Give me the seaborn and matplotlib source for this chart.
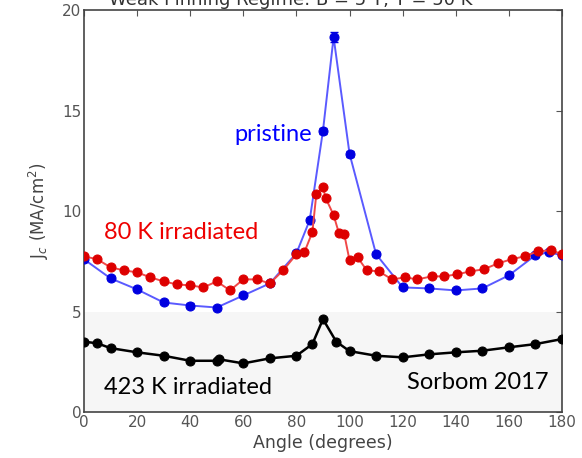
"""
Jc vs field angle for pristine and irradiated REBCO tape (Sorbom 2017)
"""
import matplotlib
matplotlib.use('Agg')
import matplotlib.pyplot as plt
import seaborn as sns

# ---- data ----
pristine_angle = [0, 10, 20, 30, 40, 50, 60, 70, 80, 85, 90, 94, 100,
                  110, 120, 130, 140, 150, 160, 170, 175, 180]
pristine_jc = [7.6, 6.65, 6.1, 5.45, 5.3, 5.2, 5.8, 6.4, 7.9, 9.55, 14.0, 18.65, 12.85,
               7.85, 6.2, 6.15, 6.05, 6.15, 6.8, 7.8, 7.95, 7.8]
pristine_err = [0.1, 0.1, 0.1, 0.1, 0.1, 0.1, 0.1, 0.1, 0.1, 0.1, 0.15, 0.25, 0.15,
                0.1, 0.1, 0.1, 0.1, 0.1, 0.1, 0.1, 0.1, 0.1]

irr80_angle = [0, 5, 10, 15, 20, 25, 30, 35, 40, 45, 50, 55, 60, 65, 70, 75, 80,
               83, 86, 87.5, 90, 91, 94, 96, 98, 100, 103, 106.5, 111, 116, 121,
               125.5, 131, 135.5, 140.5, 145.5, 150.5, 156, 161, 166, 171, 176, 180]
irr80_jc = [7.75, 7.6, 7.2, 7.05, 6.95, 6.7, 6.5, 6.35, 6.3, 6.2, 6.5, 6.05, 6.6, 6.6,
            6.4, 7.05, 7.85, 7.95, 8.95, 10.85, 11.2, 10.65, 9.8, 8.9, 8.85, 7.55, 7.7,
            7.05, 7.0, 6.6, 6.7, 6.6, 6.75, 6.75, 6.85, 7.0, 7.1, 7.4, 7.6, 7.75, 8.0,
            8.05, 7.85]

irr423_angle = [0, 5, 10, 20, 30, 40, 50, 51, 60, 70, 80, 86, 90, 95, 100,
                110, 120, 130, 140, 150, 160, 170, 180]
irr423_jc = [3.5, 3.42, 3.18, 2.97, 2.8, 2.55, 2.55, 2.62, 2.42, 2.67, 2.8, 3.38, 4.62,
             3.5, 3.03, 2.8, 2.72, 2.87, 2.97, 3.05, 3.22, 3.38, 3.63]

x_ticks = [0, 20, 40, 60, 80, 100, 120, 140, 160, 180]
y_ticks = [0, 5, 10, 15, 20]

sns.set_style('white')
plt.rcParams['font.family'] = ['DejaVu Sans']

fig = plt.figure(figsize=(5.82, 4.58), dpi=100)
ax = fig.add_axes([0.1443, 0.1004, 0.8213, 0.8776])

# light panel behind the 423 K data
ax.axhspan(0, 5, color='#f6f6f6', zorder=0, lw=0)

sns.lineplot(x=pristine_angle, y=pristine_jc, ax=ax, color='#5a5aff', lw=1.4,
             marker='o', markersize=6.5, markerfacecolor='#0000e0',
             markeredgecolor='#0000e0', zorder=3)
ax.errorbar(pristine_angle, pristine_jc, yerr=pristine_err, fmt='none',
            ecolor='#0000e0', elinewidth=1, capsize=3, zorder=3)

sns.lineplot(x=irr80_angle, y=irr80_jc, ax=ax, color='#f04848', lw=1.4,
             marker='o', markersize=6.5, markerfacecolor='#dd0000',
             markeredgecolor='#dd0000', zorder=4)

sns.lineplot(x=irr423_angle, y=irr423_jc, ax=ax, color='black', lw=1.8,
             marker='o', markersize=6.5, markerfacecolor='black',
             markeredgecolor='black', zorder=4)

ax.set_xlim(0, 180)
ax.set_ylim(0, 20)
ax.set_xticks(x_ticks)
ax.set_yticks(y_ticks)
ax.tick_params(direction='in', top=True, right=True, length=4, width=0.8,
               labelsize=11, labelcolor='#555555', color='#555555', pad=2)
for s in ax.spines.values():
    s.set_color('#444444')
    s.set_linewidth(1.2)

ax.set_xlabel('Angle (degrees)', fontsize=12.5, color='#444444', labelpad=3)
ax.set_ylabel('J$_c$ (MA/cm$^2$)', fontsize=12, color='#444444', labelpad=8)

# annotations
ax.text(86, 13.8, 'pristine', color='#0000ff', fontsize=17, family='Lato',
        ha='right', va='center')
ax.text(7.5, 8.95, '80 K irradiated', color='#ee0000', fontsize=17, family='Lato',
        ha='left', va='center')
ax.text(7.5, 1.2, '423 K irradiated', color='black', fontsize=17, family='Lato',
        ha='left', va='center')
ax.text(175, 1.45, 'Sorbom 2017', color='black', fontsize=17, family='Lato',
        ha='right', va='center')

# title is cut off by the top edge in the reference
fig.text(0.5, 0.988, 'Weak Pinning Regime: B = 5 T, T = 50 K', fontsize=13,
         color='#333333', ha='center', va='baseline')

fig.savefig('out.png', dpi=100)
